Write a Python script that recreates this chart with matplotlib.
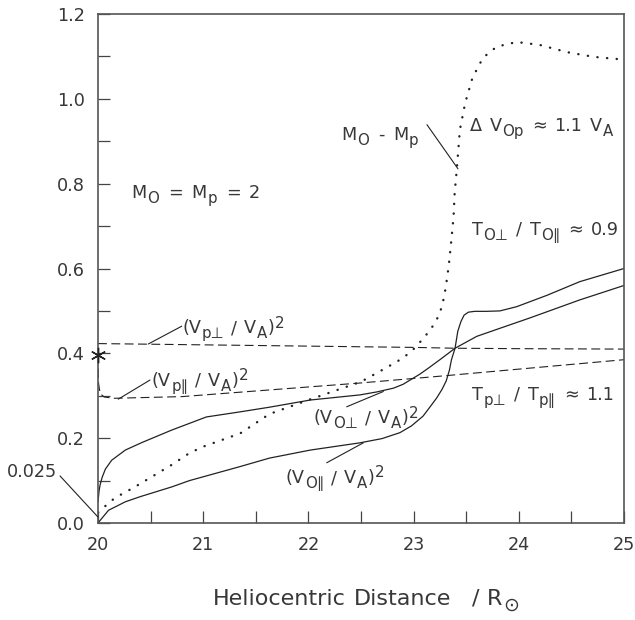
import re
import matplotlib
matplotlib.use("Agg")
import matplotlib.pyplot as plt
from matplotlib.ticker import MultipleLocator, FixedLocator
from matplotlib.transforms import ScaledTranslation

plt.rcParams['font.family'] = ['DejaVu Sans']

# ---- data ----
x_dot = [20.0, 20.06, 20.16, 20.35, 20.7, 20.87, 21.0, 21.35, 21.63, 22.0, 22.5, 22.74,
         22.9, 23.0, 23.1, 23.2, 23.25, 23.28, 23.3, 23.32, 23.34, 23.36, 23.38, 23.39,
         23.41, 23.44, 23.49, 23.56, 23.66, 23.79, 23.98, 24.2, 24.46, 24.71, 24.93, 25.0]
y_dot = [0.025, 0.038, 0.059, 0.085, 0.137, 0.165, 0.18, 0.211, 0.257, 0.29, 0.333, 0.366,
         0.389, 0.41, 0.437, 0.47, 0.495, 0.522, 0.548, 0.58, 0.62, 0.67, 0.722, 0.777,
         0.832, 0.927, 0.99, 1.05, 1.097, 1.123, 1.134, 1.127, 1.11, 1.099, 1.094, 1.093]

x_operp = [20.0, 20.01, 20.02, 20.04, 20.07, 20.13, 20.26, 20.42, 20.7, 21.03, 21.35, 21.63,
           22.02, 22.49, 22.65, 22.81, 22.9, 22.98, 23.06, 23.14, 23.25, 23.394, 23.6, 23.82,
           24.1, 24.58, 25.0]
y_operp = [0.05, 0.075, 0.09, 0.108, 0.127, 0.148, 0.172, 0.19, 0.219, 0.25, 0.262, 0.273,
           0.29, 0.302, 0.309, 0.318, 0.327, 0.339, 0.351, 0.365, 0.385, 0.412, 0.44, 0.459,
           0.483, 0.526, 0.56]

x_opar = [20.0, 20.1, 20.26, 20.4, 20.7, 20.87, 21.35, 21.63, 22.02, 22.49, 22.7, 22.87,
          22.98, 23.09, 23.16, 23.22, 23.27, 23.31, 23.34, 23.36, 23.394, 23.42, 23.45,
          23.48, 23.52, 23.58, 23.69, 23.82, 23.98, 24.27, 24.58, 25.0]
y_opar = [0.0, 0.03, 0.05, 0.062, 0.085, 0.1, 0.133, 0.153, 0.172, 0.189, 0.199, 0.213,
          0.229, 0.252, 0.275, 0.295, 0.315, 0.335, 0.36, 0.385, 0.412, 0.452, 0.475,
          0.49, 0.497, 0.499, 0.499, 0.5, 0.51, 0.537, 0.569, 0.6]

x_pperp = [20.0, 21.0, 22.0, 23.0, 23.4, 24.0, 25.0]
y_pperp = [0.423, 0.42, 0.417, 0.414, 0.412, 0.411, 0.41]

x_ppar = [20.0, 20.005, 20.02, 20.06, 20.15, 20.8, 21.54, 22.49, 23.2, 24.1, 25.0]
y_ppar = [0.395, 0.33, 0.305, 0.297, 0.294, 0.298, 0.312, 0.33, 0.345, 0.365, 0.385]

x_star = [20.0]
y_star = [0.395]

x_ticks = [20, 21, 22, 23, 24, 25]
y_ticks = [0.0, 0.2, 0.4, 0.6, 0.8, 1.0, 1.2]

# ---- figure ----
fig = plt.figure(figsize=(6.35, 6.2), dpi=100)
ax = fig.add_axes([98/635, 1-523/620, 526/635, 509/620])
renderer = fig.canvas.get_renderer()

lc = '#222222'
tc = '#383838'
ax.plot(x_dot, y_dot, color=lc, lw=1.7, linestyle=(0, (0.1, 4.0)), dash_capstyle='round')
ax.plot(x_operp, y_operp, color=lc, lw=0.9)
ax.plot(x_opar, y_opar, color=lc, lw=0.9)
ax.plot(x_pperp, y_pperp, color=lc, lw=0.8, linestyle=(0, (8, 4)))
ax.plot(x_ppar, y_ppar, color=lc, lw=0.8, linestyle=(0, (8, 4)))
ax.plot(x_star, y_star, linestyle='none', marker=(6, 2, 0), markersize=11,
        color=lc, mew=1.0, clip_on=False, zorder=5)

ax.set_xlim(20, 25)
ax.set_ylim(0, 1.2)
ax.xaxis.set_major_locator(FixedLocator(x_ticks))
ax.xaxis.set_minor_locator(MultipleLocator(0.5))
ax.yaxis.set_major_locator(FixedLocator(y_ticks))
ax.yaxis.set_minor_locator(MultipleLocator(0.1))
ax.set_xticklabels([str(v) for v in x_ticks])
ax.set_yticklabels([f"{v:.1f}" for v in y_ticks])
ax.tick_params(which='both', direction='in', length=8.6, width=0.9, color='#444444',
               top=False, right=False)
ax.tick_params(axis='y', which='major', pad=9.4, labelsize=12.7, labelcolor=tc)
ax.tick_params(axis='x', which='major', pad=9.0, labelsize=12.7, labelcolor=tc)
for s in ax.spines.values():
    s.set_color('#555555')
    s.set_linewidth(1.2)


def rich(x, y, s, fs, transform, space=0.45, color=tc):
    """Draw text with _{sub} and ^{sup} pieces, left/baseline anchored."""
    tokens = re.findall(r'_\{[^}]*\}|\^\{[^}]*\}| |[^_^ ]+', s)
    dx = 0.0
    for t in tokens:
        if t == ' ':
            dx += space * fs
            continue
        if t.startswith('_{'):
            txt, size, dy = t[2:-1], 0.85 * fs, -0.27 * fs
        elif t.startswith('^{'):
            txt, size, dy = t[2:-1], 0.85 * fs, 0.33 * fs
        else:
            txt, size, dy = t, fs, 0.0
        tr = transform + ScaledTranslation(dx / 72, dy / 72, fig.dpi_scale_trans)
        tt = fig.text(x, y, txt, transform=tr, fontsize=size, color=color,
                      ha='left', va='baseline', clip_on=False)
        w = tt.get_window_extent(renderer).width * 72 / fig.dpi
        dx += w + 0.04 * fs


fs = 12.7
td = ax.transData
rich(20.32, 0.766, "M_{O} = M_{p} = 2", fs, td)
rich(22.316, 0.903, "M_{O} - M_{p}", fs, td)
rich(23.536, 0.923, "Δ V_{Op} ≈ 1.1 V_{A}", fs, td, space=0.4)
rich(23.552, 0.679, "T_{O⊥} / T_{O∥} ≈ 0.9", fs, td, space=0.4)
rich(23.552, 0.29, "T_{p⊥} / T_{p∥} ≈ 1.1", fs, td, space=0.4)
rich(20.8, 0.447, "(V_{p⊥} / V_{A})^{2}", fs, td, space=0.35)
rich(20.51, 0.323, "(V_{p∥} / V_{A})^{2}", fs, td, space=0.35)
rich(22.047, 0.235, "(V_{O⊥} / V_{A})^{2}", fs, td, space=0.35)
rich(21.778, 0.094, "(V_{O∥} / V_{A})^{2}", fs, td, space=0.35)
rich(19.132, 0.109, "0.025", fs, td)

lp = dict(arrowstyle='-', color=lc, lw=0.8, shrinkA=0, shrinkB=0)
leaders = [((19.639, 0.111), (20.0, 0.014)),
           ((20.478, 0.422), (20.796, 0.464)),
           ((20.193, 0.292), (20.494, 0.337)),
           ((22.364, 0.274), (22.712, 0.310)),
           ((22.174, 0.142), (22.522, 0.189)),
           ((23.127, 0.939), (23.422, 0.835))]
for a, b in leaders:
    ax.annotate('', xy=b, xytext=a, arrowprops=lp, annotation_clip=False)

rich(213/635, 1-605/620, "Heliocentric Distance   / R_{⊙}", 16.0, fig.transFigure,
     space=0.3)

fig.savefig("out.png", dpi=100)
